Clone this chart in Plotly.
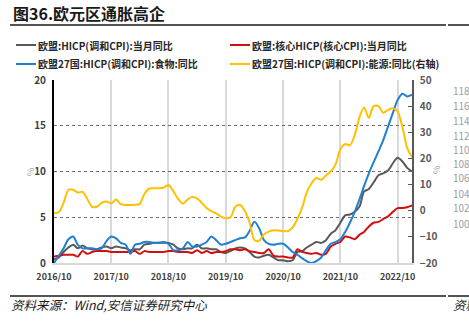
import pandas as pd
import plotly.graph_objects as go

# Monthly observations, 2016/10 - 2023/01
months = pd.date_range("2016-10-01", "2023-01-01", freq="MS")

hicp = [0.4, 0.6, 1.2, 1.7, 2.0, 1.6, 1.9, 1.6, 1.5, 1.5, 1.7, 1.8,
        1.6, 1.8, 1.7, 1.6, 1.4, 1.5, 1.5, 2.0, 2.1, 2.2, 2.2, 2.2,
        2.2, 2.0, 1.6, 1.5, 1.6, 1.6, 2.0, 1.6, 1.6, 1.5, 1.5, 1.2,
        1.1, 1.3, 1.6, 1.7, 1.6, 1.2, 0.7, 0.6, 0.8, 0.9, 0.6, 0.3,
        0.3, 0.2, 0.3, 1.2, 1.3, 1.7, 2.0, 2.3, 2.2, 2.5, 3.2, 3.6,
        4.4, 5.2, 5.3, 5.6, 6.2, 7.8, 8.1, 8.8, 9.6, 9.8, 10.1, 10.9,
        11.5, 11.1, 10.4, 10.0]

core = [0.7, 0.8, 0.9, 0.9, 0.9, 0.7, 1.3, 1.0, 1.2, 1.3, 1.3, 1.3,
        1.2, 1.2, 1.2, 1.2, 1.2, 1.3, 1.0, 1.3, 1.2, 1.2, 1.2, 1.2,
        1.3, 1.3, 1.2, 1.2, 1.2, 1.1, 1.4, 1.1, 1.3, 1.1, 1.2, 1.2,
        1.3, 1.5, 1.5, 1.4, 1.5, 1.3, 1.2, 1.1, 1.1, 1.5, 0.8, 0.7,
        0.7, 0.6, 0.6, 1.5, 1.2, 1.1, 1.0, 1.1, 0.9, 1.0, 1.8, 2.1,
        2.3, 2.9, 2.8, 2.6, 3.1, 3.4, 4.0, 4.4, 4.5, 4.8, 5.1, 5.6,
        6.0, 6.0, 6.1, 6.3]

food = [0.0, 0.8, 1.6, 2.6, 2.9, 2.0, 1.6, 1.6, 1.6, 1.5, 1.6, 2.4,
        2.9, 2.7, 2.2, 2.0, 1.0, 2.0, 2.1, 2.3, 2.3, 2.2, 2.2, 2.3,
        2.1, 1.4, 1.4, 1.6, 2.3, 1.8, 1.8, 2.0, 2.3, 2.9, 2.5, 2.0,
        2.1, 2.3, 2.5, 2.7, 2.8, 3.5, 4.5, 3.8, 2.5, 2.1, 2.0, 2.1,
        2.1, 1.7, 1.2, 0.9, 0.5, 0.2, 0.0, 0.2, 0.6, 1.4, 2.1, 2.3,
        2.6, 3.4, 4.4, 5.6, 7.0, 8.4, 9.8, 11.0, 12.2, 13.4, 14.9, 16.4,
        17.8, 18.5, 18.2, 18.4]

energy = [-1.0, -0.5, 3.0, 8.0, 8.0, 7.0, 7.2, 4.5, 1.5, 1.5, 3.0, 3.5,
          2.8, 4.3, 2.5, 2.2, 2.2, 2.3, 2.6, 6.5, 8.5, 8.6, 8.6, 8.9,
          9.8, 7.5, 4.5, 2.7, 4.4, 5.2, 4.7, 3.0, 1.0, -0.2, -1.0, -2.3,
          -2.9, -2.5, 1.5, 2.2, -0.2, -4.5, -11.2, -11.5, -9.0, -8.0, -7.5, -7.6,
          -7.8, -7.8, -6.4, -3.0, 1.5, 7.0, 10.5, 12.5, 11.8, 13.5, 15.0, 17.8,
          23.5, 25.5, 25.0, 29.0, 36.0, 39.5, 35.5, 40.0, 40.0, 37.5, 38.5, 39.2,
          38.0, 32.0, 24.0, 20.5]

x_ticks = ["2016-10-01", "2017-10-01", "2018-10-01", "2019-10-01",
           "2020-10-01", "2021-10-01", "2022-10-01"]
x_tick_text = ["2016/10", "2017/10", "2018/10", "2019/10",
               "2020/10", "2021/10", "2022/10"]

names = ["欧盟:HICP(调和CPI):当月同比",
         "欧盟:核心HICP(核心CPI):当月同比",
         "欧盟27国:HICP(调和CPI):食物:同比",
         "欧盟27国:HICP(调和CPI):能源:同比(右轴)"]
colors = ["#595959", "#D01010", "#1F7FD3", "#FFC000"]

W, H = 469, 323
L, R, T, B = 54, 412, 80, 263   # plot area in pixels


def px(x):
    return (x - L) / (R - L)


def py(y):
    return (B - y) / (B - T)


CJK = "Noto Sans CJK SC"

fig = go.Figure()
for vals, name, col, ax in zip([hicp, core, food, energy], names, colors,
                               ["y", "y", "y", "y2"]):
    fig.add_trace(go.Scatter(
        x=months, y=vals, name=name, yaxis=ax, mode="lines",
        line=dict(color=col, width=2, shape="spline", smoothing=0.8),
    ))

fig.update_layout(
    width=W, height=H,
    margin=dict(l=L, r=W - R, t=T, b=H - B),
    paper_bgcolor="white", plot_bgcolor="white",
    font=dict(family=CJK, size=10, color="#262626"),
    showlegend=False,
    xaxis=dict(
        type="date", range=["2016-10-01", "2023-01-01"],
        tickvals=x_ticks, ticktext=x_tick_text,
        showgrid=True, gridcolor="#D9D9D9", gridwidth=1.5,
        showline=True, linecolor="#D9D9D9", linewidth=1.5,
        ticks="", ticklabelstandoff=4,
        tickfont=dict(family=CJK, size=9, color="#404040", weight="bold"),
        zeroline=False,
    ),
    yaxis=dict(
        range=[0, 20], tickvals=[0, 5, 10, 15, 20],
        showgrid=True, gridcolor="#6E6E6E", gridwidth=1, griddash="dot",
        showline=True, linecolor="#000000", linewidth=2,
        ticks="", zeroline=False, ticklabelstandoff=4,
        tickfont=dict(family=CJK, size=10, color="#404040", weight="bold"),
    ),
    yaxis2=dict(
        range=[-20, 50], tickvals=[-20, -10, 0, 10, 20, 30, 40, 50],
        overlaying="y", side="right", showgrid=False, zeroline=False,
        showline=True, linecolor="#595959", linewidth=1.5,
        ticks="inside", ticklen=4, tickcolor="#595959", tickwidth=1,
        ticklabelstandoff=4,
        tickfont=dict(family=CJK, size=10, color="#595959", weight="bold"),
    ),
)

annotations = [
    dict(text="<b>图36.欧元区通胀高企</b>", x=px(11), y=py(13), xanchor="left",
         yanchor="middle", font=dict(family=CJK, size=16, color="#1A1A1A")),
    dict(text="%", x=px(30), y=py(172), textangle=-90, xanchor="center",
         yanchor="middle", font=dict(family=CJK, size=9, color="#A6A6A6")),
    dict(text="%", x=px(436), y=py(170), textangle=-90, xanchor="center",
         yanchor="middle", font=dict(family=CJK, size=9, color="#A6A6A6")),
    dict(text="<i>资料来源：Wind,安信证券研究中心</i>", x=px(9), y=py(304),
         xanchor="left", yanchor="middle",
         font=dict(family=CJK, size=12.5, color="#1A1A1A")),
    dict(text="<i>资料</i>", x=px(451), y=py(304), xanchor="left", yanchor="middle",
         font=dict(family=CJK, size=12.5, color="#1A1A1A")),
]

shapes = []

# two-column key above the plot: (line start, row centre) per series
key_pos = [(16, 45), (230, 45), (16, 64), (230, 64)]
for (kx, ky), name, col in zip(key_pos, names, colors):
    shapes.append(dict(type="line", xref="paper", yref="paper",
                       x0=px(kx), x1=px(kx + 20), y0=py(ky), y1=py(ky),
                       line=dict(color=col, width=2)))
    annotations.append(dict(text=name, x=px(kx + 20), y=py(ky), xanchor="left",
                            yanchor="middle",
                            font=dict(family=CJK, size=10, color="#262626",
                                      weight="bold")))

# numbers of the neighbouring panel that spill into the frame
side_vals = ["118", "116", "114", "112", "110", "108", "106", "104", "102", "100"]
side_y = [91, 105, 120, 135, 149, 163, 177, 193, 207, 223]
for t, yy in zip(side_vals, side_y):
    annotations.append(dict(text=t, x=px(451), y=py(yy), xanchor="left",
                            yanchor="middle",
                            font=dict(family=CJK, size=10, color="#9E9E9E")))
for a in annotations:
    a.update(xref="paper", yref="paper", showarrow=False)

for yy in (25, 296):
    for x0, x1 in ((10, 446), (448, 469)):
        shapes.append(dict(type="line", xref="paper", yref="paper",
                           x0=px(x0), x1=px(x1), y0=py(yy), y1=py(yy),
                           line=dict(color="#1A1A1A", width=1.5)))
fig.update_layout(annotations=annotations, shapes=shapes)

fig.write_html("out.html")
